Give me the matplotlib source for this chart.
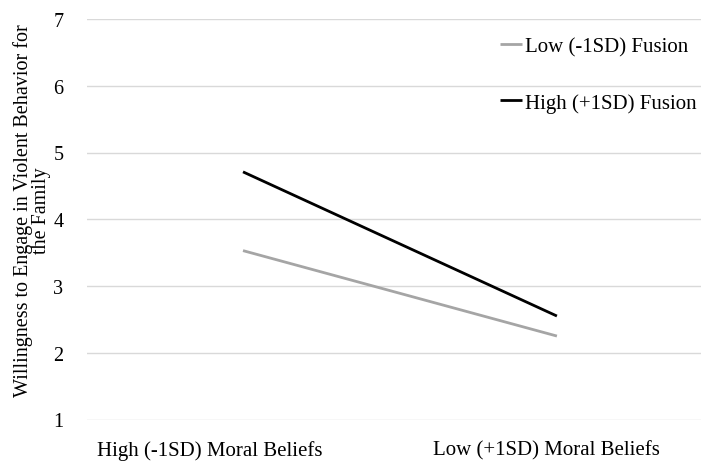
import matplotlib
matplotlib.use("Agg")
import matplotlib.pyplot as plt
import matplotlib.transforms as mtransforms

categories = ["High (-1SD) Moral Beliefs", "Low (+1SD) Moral Beliefs"]
series_names = ["Low (-1SD) Fusion", "High (+1SD) Fusion"]
low_fusion = [3.53, 2.25]
high_fusion = [4.71, 2.55]
yticks = [1, 2, 3, 4, 5, 6, 7]

plt.rcParams['font.family'] = ['Liberation Serif', 'DejaVu Serif']

fig = plt.figure(figsize=(7.01, 4.64), dpi=100)
ax = fig.add_axes([87/701, 1 - 420.5/464, (701-87)/701, (420.5-20)/464])

x = [0, 1]
ax.plot(x, low_fusion, color="#a5a5a5", lw=2.0, label=series_names[0], solid_capstyle='butt')
ax.plot(x, high_fusion, color="#000000", lw=2.0, label=series_names[1], solid_capstyle='butt')

ax.set_xlim(-0.497, 1.459)
ax.set_ylim(1, 7)
ax.set_yticks(yticks)
ax.set_yticklabels([str(t) for t in yticks], fontsize=14.5)
ax.yaxis.grid(True, color="#d9d9d9", lw=1.0)
ax.set_axisbelow(True)
for s in ax.spines.values():
    s.set_visible(False)
ax.tick_params(axis='y', length=0, pad=17)
ax.tick_params(axis='x', length=0, pad=15)

ax.set_xticks(x)
ax.set_xticklabels(categories, fontsize=15)
offsets = [-33, -10]
for lab, dx in zip(ax.get_xticklabels(), offsets):
    lab.set_transform(lab.get_transform() + mtransforms.ScaledTranslation(dx/100, 0, fig.dpi_scale_trans))

ax.set_ylabel("Willingness to Engage in Violent Behavior for\nthe Family", fontsize=14.5, linespacing=0.9)
ax.yaxis.set_label_coords(-36/614, (420.5-211)/400.5)

leg = fig.legend(loc="upper right", frameon=False, fontsize=15, handlelength=1.06,
                 handletextpad=0.15, labelspacing=1.75, borderpad=0, borderaxespad=0,
                 bbox_to_anchor=(697/701, 1 - 38/464))

fig.savefig("out.png", dpi=100)
